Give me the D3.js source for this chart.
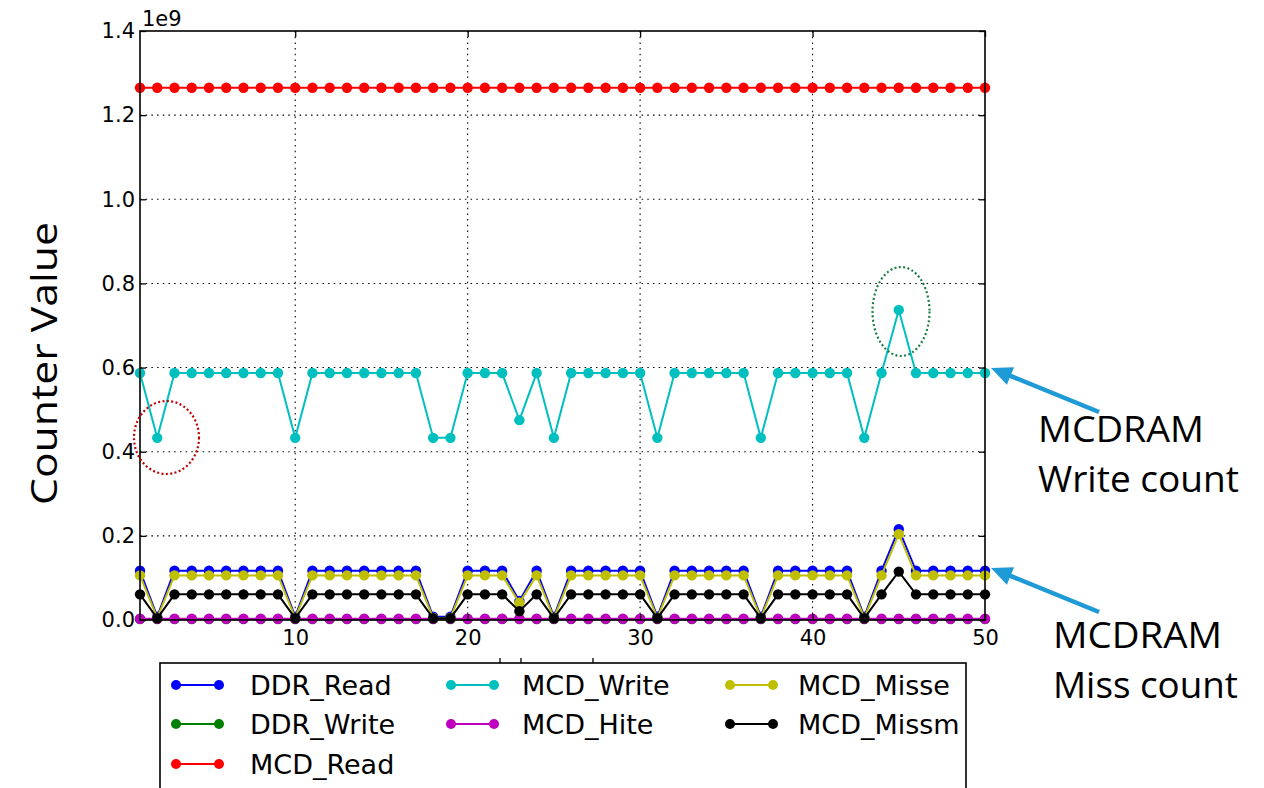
<!DOCTYPE html>
<html>
<head>
<meta charset="utf-8">
<script src="https://cdn.jsdelivr.net/npm/d3@7"></script>
<style>
  body { margin: 0; background: #fff; }
  svg { display: block; }
</style>
</head>
<body>
<svg id="chart" width="1264" height="788"></svg>
<script>
// Sample index along the x axis (1..50)
const sampleIndex = d3.range(1, 51);

// Counter values, in units of 1e9
const ddrRead = [
  0.117, 0.008, 0.117, 0.117, 0.117, 0.117, 0.117, 0.117, 0.117, 0.008,
  0.117, 0.117, 0.117, 0.117, 0.117, 0.117, 0.117, 0.008, 0.008, 0.117,
  0.117, 0.117, 0.045, 0.117, 0.008, 0.117, 0.117, 0.117, 0.117, 0.117,
  0.008, 0.117, 0.117, 0.117, 0.117, 0.117, 0.008, 0.117, 0.117, 0.117,
  0.117, 0.117, 0.008, 0.117, 0.216, 0.117, 0.117, 0.117, 0.117, 0.117
];
const ddrWrite = [
  0.002, 0.002, 0.002, 0.002, 0.002, 0.002, 0.002, 0.002, 0.002, 0.002,
  0.002, 0.002, 0.002, 0.002, 0.002, 0.002, 0.002, 0.002, 0.002, 0.002,
  0.002, 0.002, 0.002, 0.002, 0.002, 0.002, 0.002, 0.002, 0.002, 0.002,
  0.002, 0.002, 0.002, 0.002, 0.002, 0.002, 0.002, 0.002, 0.002, 0.002,
  0.002, 0.002, 0.002, 0.002, 0.002, 0.002, 0.002, 0.002, 0.002, 0.002
];
const mcdRead = [
  1.265, 1.265, 1.265, 1.265, 1.265, 1.265, 1.265, 1.265, 1.265, 1.265,
  1.265, 1.265, 1.265, 1.265, 1.265, 1.265, 1.265, 1.265, 1.265, 1.265,
  1.265, 1.265, 1.265, 1.265, 1.265, 1.265, 1.265, 1.265, 1.265, 1.265,
  1.265, 1.265, 1.265, 1.265, 1.265, 1.265, 1.265, 1.265, 1.265, 1.265,
  1.265, 1.265, 1.265, 1.265, 1.265, 1.265, 1.265, 1.265, 1.265, 1.265
];
const mcdWrite = [
  0.587, 0.433, 0.587, 0.587, 0.587, 0.587, 0.587, 0.587, 0.587, 0.433,
  0.587, 0.587, 0.587, 0.587, 0.587, 0.587, 0.587, 0.433, 0.433, 0.587,
  0.587, 0.587, 0.475, 0.587, 0.433, 0.587, 0.587, 0.587, 0.587, 0.587,
  0.433, 0.587, 0.587, 0.587, 0.587, 0.587, 0.433, 0.587, 0.587, 0.587,
  0.587, 0.587, 0.433, 0.587, 0.737, 0.587, 0.587, 0.587, 0.587, 0.587
];
const mcdHite = [
  0.003, 0.003, 0.003, 0.003, 0.003, 0.003, 0.003, 0.003, 0.003, 0.003,
  0.003, 0.003, 0.003, 0.003, 0.003, 0.003, 0.003, 0.003, 0.003, 0.003,
  0.003, 0.003, 0.003, 0.003, 0.003, 0.003, 0.003, 0.003, 0.003, 0.003,
  0.003, 0.003, 0.003, 0.003, 0.003, 0.003, 0.003, 0.003, 0.003, 0.003,
  0.003, 0.003, 0.003, 0.003, 0.003, 0.003, 0.003, 0.003, 0.003, 0.003
];
const mcdMisse = [
  0.106, 0.005, 0.106, 0.106, 0.106, 0.106, 0.106, 0.106, 0.106, 0.005,
  0.106, 0.106, 0.106, 0.106, 0.106, 0.106, 0.106, 0.005, 0.005, 0.106,
  0.106, 0.106, 0.041, 0.106, 0.005, 0.106, 0.106, 0.106, 0.106, 0.106,
  0.005, 0.106, 0.106, 0.106, 0.106, 0.106, 0.005, 0.106, 0.106, 0.106,
  0.106, 0.106, 0.005, 0.106, 0.204, 0.106, 0.106, 0.106, 0.106, 0.106
];
const mcdMissm = [
  0.061, 0.004, 0.061, 0.061, 0.061, 0.061, 0.061, 0.061, 0.061, 0.004,
  0.061, 0.061, 0.061, 0.061, 0.061, 0.061, 0.061, 0.004, 0.004, 0.061,
  0.061, 0.061, 0.021, 0.061, 0.004, 0.061, 0.061, 0.061, 0.061, 0.061,
  0.004, 0.061, 0.061, 0.061, 0.061, 0.061, 0.004, 0.061, 0.061, 0.061,
  0.061, 0.061, 0.004, 0.061, 0.115, 0.061, 0.061, 0.061, 0.061, 0.061
];

const seriesNames  = ["DDR_Read", "DDR_Write", "MCD_Read", "MCD_Write", "MCD_Hite", "MCD_Misse", "MCD_Missm"];
const seriesValues = [ddrRead, ddrWrite, mcdRead, mcdWrite, mcdHite, mcdMisse, mcdMissm];
const seriesColors = ["#0000ff", "#008000", "#ff0000", "#00bfbf", "#bf00bf", "#bfbf00", "#000000"];

const xTicks = [10, 20, 30, 40, 50];
const xTickLabels = ["10", "20", "30", "40", "50"];
const yTicks = [0, 0.2, 0.4, 0.6, 0.8, 1.0, 1.2, 1.4];
const yTickLabels = ["0.0", "0.2", "0.4", "0.6", "0.8", "1.0", "1.2", "1.4"];

const yAxisTitle = "Counter Value";
const offsetLabel = "1e9";
const noteWrite = ["MCDRAM", "Write count"];
const noteMiss = ["MCDRAM", "Miss count"];

// ---- layout ----
const svg = d3.select("#chart");
const plot = { left: 140, right: 985, top: 31, bottom: 620 };
const tickFont = "'DejaVu Sans', sans-serif";
const noteFont = "'Open Sans', 'Liberation Sans', sans-serif";

const x = d3.scaleLinear().domain([1, 50]).range([plot.left, plot.right]);
const y = d3.scaleLinear().domain([0, 1.4]).range([plot.bottom, plot.top]);

// dotted grid
const grid = svg.append("g").attr("stroke", "#000").attr("stroke-width", 1.1)
  .attr("stroke-dasharray", "1.5,4.2").attr("fill", "none");
grid.selectAll("line.gx").data(xTicks.filter(v => v < 50)).join("line")
  .attr("x1", d => x(d)).attr("x2", d => x(d))
  .attr("y1", plot.top).attr("y2", plot.bottom);
grid.selectAll("line.gy").data(yTicks.filter(v => v > 0 && v < 1.4)).join("line")
  .attr("y1", d => y(d)).attr("y2", d => y(d))
  .attr("x1", plot.left).attr("x2", plot.right);

// series: line + circle markers, drawn in order
const line = d3.line().x((d, i) => x(sampleIndex[i])).y(d => y(d));
seriesValues.forEach((vals, k) => {
  const g = svg.append("g");
  g.append("path").datum(vals)
    .attr("d", line).attr("fill", "none")
    .attr("stroke", seriesColors[k]).attr("stroke-width", 2);
  g.selectAll("circle").data(vals).join("circle")
    .attr("cx", (d, i) => x(sampleIndex[i])).attr("cy", d => y(d))
    .attr("r", 5.2).attr("fill", seriesColors[k]);
});

// axes with inward ticks
function styleAxis(g) {
  g.select(".domain").remove();
  g.selectAll(".tick line").attr("stroke", "#000").attr("stroke-width", 1.3);
  g.selectAll("text").attr("font-family", tickFont).attr("font-size", 21).attr("fill", "#000");
}
svg.append("g").attr("transform", `translate(0,${plot.bottom})`)
  .call(d3.axisBottom(x).tickValues(xTicks).tickSize(-6).tickPadding(10)
    .tickFormat((d, i) => xTickLabels[i]))
  .call(styleAxis);
svg.append("g").attr("transform", `translate(0,${plot.top})`)
  .call(d3.axisTop(x).tickValues(xTicks).tickSize(-6).tickFormat(""))
  .call(styleAxis);
svg.append("g").attr("transform", `translate(${plot.left},0)`)
  .call(d3.axisLeft(y).tickValues(yTicks).tickSize(-6).tickPadding(5)
    .tickFormat((d, i) => yTickLabels[i]))
  .call(styleAxis);
svg.append("g").attr("transform", `translate(${plot.right},0)`)
  .call(d3.axisRight(y).tickValues(yTicks).tickSize(-6).tickFormat(""))
  .call(styleAxis);

// frame
svg.append("rect")
  .attr("x", plot.left).attr("y", plot.top)
  .attr("width", plot.right - plot.left).attr("height", plot.bottom - plot.top)
  .attr("fill", "none").attr("stroke", "#000").attr("stroke-width", 1.6);

// offset text
svg.append("text").attr("x", plot.left + 2).attr("y", 26)
  .attr("font-family", tickFont).attr("font-size", 21).text(offsetLabel);

// y axis title
svg.append("text")
  .attr("transform", "translate(57,363.5) rotate(-90)")
  .attr("text-anchor", "middle")
  .attr("font-family", noteFont).attr("font-size", 37)
  .attr("textLength", 283).attr("lengthAdjust", "spacingAndGlyphs")
  .text(yAxisTitle);

// small tick remnants above the legend box
svg.append("g").attr("stroke", "#000").attr("stroke-width", 1.3)
  .selectAll("line").data([500, 521, 593]).join("line")
  .attr("x1", d => d).attr("x2", d => d).attr("y1", 658).attr("y2", 663);

// legend
const legend = svg.append("g");
legend.append("rect").attr("x", 160).attr("y", 663).attr("width", 806).attr("height", 150)
  .attr("fill", "#fff").attr("stroke", "#000").attr("stroke-width", 1.6);
const legCol = [0, 0, 0, 1, 1, 2, 2];
const legRow = [0, 1, 2, 0, 1, 0, 1];
const colX = [176, 451, 730];
const textX = [250, 522, 798];
const rowY = [685, 724, 764];
seriesNames.forEach((name, k) => {
  const cx = colX[legCol[k]], cy = rowY[legRow[k]];
  legend.append("line").attr("x1", cx).attr("x2", cx + 43).attr("y1", cy).attr("y2", cy)
    .attr("stroke", seriesColors[k]).attr("stroke-width", 2);
  [cx, cx + 43].forEach(px => legend.append("circle").attr("cx", px).attr("cy", cy)
    .attr("r", 5).attr("fill", seriesColors[k]));
  legend.append("text").attr("x", textX[legCol[k]]).attr("y", cy + 9.5)
    .attr("font-family", tickFont).attr("font-size", 27).text(name);
});

// highlight ellipses
svg.append("ellipse").attr("cx", 166.5).attr("cy", 437.5).attr("rx", 32.5).attr("ry", 36.5)
  .attr("fill", "none").attr("stroke", "#c00000").attr("stroke-width", 2.2)
  .attr("stroke-dasharray", "2,2.4");
svg.append("ellipse").attr("cx", 901).attr("cy", 311.5).attr("rx", 28.5).attr("ry", 44.5)
  .attr("fill", "none").attr("stroke", "#1a7f45").attr("stroke-width", 2.2)
  .attr("stroke-dasharray", "2,2.4");

// callout arrows
function arrow(tail, tip) {
  const dx = tip[0] - tail[0], dy = tip[1] - tail[1];
  const len = Math.hypot(dx, dy), ux = dx / len, uy = dy / len;
  const headLen = 21, headHalf = 9.5;
  const bx = tip[0] - ux * headLen, by = tip[1] - uy * headLen;
  const g = svg.append("g");
  g.append("line").attr("x1", tail[0]).attr("y1", tail[1]).attr("x2", bx + ux * 2).attr("y2", by + uy * 2)
    .attr("stroke", "#1e9ad6").attr("stroke-width", 4.5);
  g.append("path")
    .attr("d", `M${tip[0]},${tip[1]}L${bx - uy * headHalf},${by + ux * headHalf}L${bx + uy * headHalf},${by - ux * headHalf}Z`)
    .attr("fill", "#1e9ad6");
}
arrow([1099, 412], [991, 368]);
arrow([1099, 612], [991, 568]);

// callout notes
function note(lines, xs, baselines, widths) {
  lines.forEach((t, i) => svg.append("text")
    .attr("x", xs).attr("y", baselines[i])
    .attr("font-family", noteFont).attr("font-size", 37)
    .attr("textLength", widths[i]).attr("lengthAdjust", "spacingAndGlyphs")
    .text(t));
}
note(noteWrite, 1038, [442, 492], [166, 201]);
note(noteMiss, 1053, [648, 698], [169, 185]);
</script>
</body>
</html>
